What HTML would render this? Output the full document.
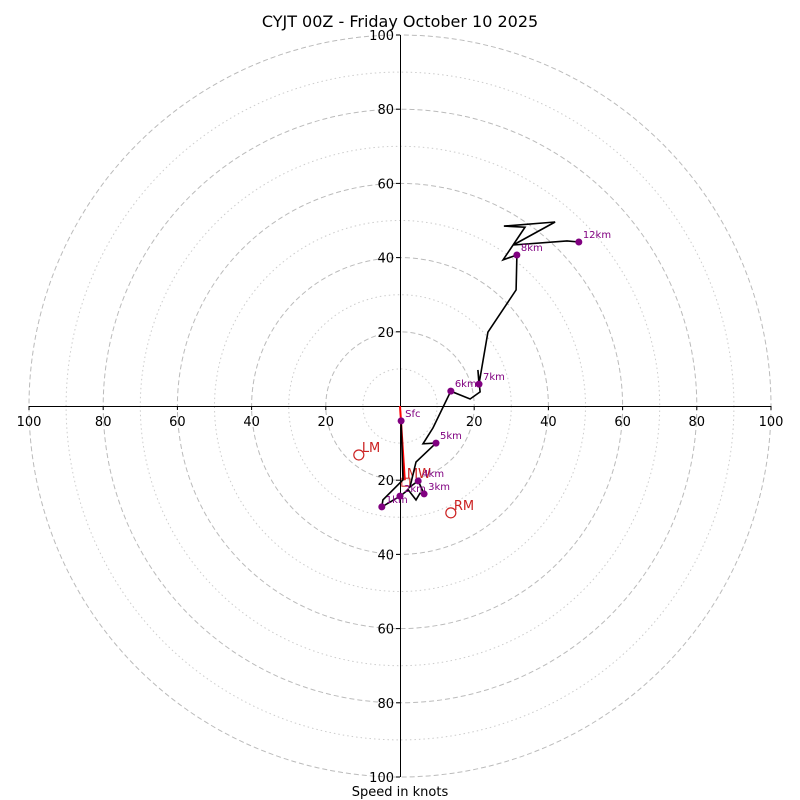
<!DOCTYPE html>
<html><head><meta charset="utf-8"><style>
html,body{margin:0;padding:0;background:#fff}
svg{display:block;font-family:"DejaVu Sans","Liberation Sans",sans-serif}
</style></head><body>
<svg id="chart" width="800" height="800" viewBox="0 0 800 800">
<text x="400" y="27" text-anchor="middle" font-size="16">CYJT 00Z - Friday October 10 2025</text>
<g id="grid"></g>
<g id="axes"></g>
<g id="series"></g>
<text x="400" y="796" text-anchor="middle" font-size="13">Speed in knots</text>
</svg>
<script>
const ringSpeeds=[10,20,30,40,50,60,70,80,90,100];
const tickValues=[20,40,60,80,100];
const traceU=[0.3,0.8,-4.6,-4.9,0,2.2,4.3,5.4,6.5,4.9,2.7,4.3,9.7,6.2,8.9,13.7,18.9,21.6,21.0,21.3,23.7,31.3,31.5,27.8,32.3,33.7,28.0,41.8,30.5,45.0,48.2];
const traceV=[-4.0,-19.9,-25.3,-27.2,-24.3,-22.6,-25.3,-23.5,-23.7,-20.2,-21.8,-15.1,-10.0,-10.2,-5.9,4.0,1.9,3.8,9.7,5.9,19.9,31.3,40.7,39.4,46.1,48.2,48.5,49.6,43.4,44.5,44.2];
const markerLabels=["Sfc","1km","2km","3km","4km","5km","6km","7km","8km","12km"];
const markerU=[0.3,-4.9,0,6.5,4.9,9.7,13.7,21.3,31.5,48.2];
const markerV=[-4.0,-27.2,-24.3,-23.7,-20.2,-10.0,4.0,5.9,40.7,44.2];
const stormLabels=["LM","RM"];
const stormU=[-11.1,13.7];
const stormV=[-13.2,-28.8];
const meanWindU=[1.3];
const meanWindV=[-20.0];

const cx=400,cy=406,k=3.71;
const X=u=>cx+u*k, Y=v=>cy-v*k;
const NS='http://www.w3.org/2000/svg';
function mk(tag,parent,attrs){const e=document.createElementNS(NS,tag);for(const a in attrs)e.setAttribute(a,attrs[a]);parent.appendChild(e);return e;}
const grid=document.getElementById('grid'),axes=document.getElementById('axes'),series=document.getElementById('series');

ringSpeeds.forEach(s=>{
  const even=s%20===0;
  const c=mk('circle',grid,{cx:cx,cy:cy,r:s*k,fill:'none',stroke:even?'#bbbbbb':'#cccccc','stroke-width':1,'stroke-dasharray':even?'5,3':'1.5,3'});
  
  
});
mk('line',axes,{x1:X(-100),y1:cy+0.5,x2:X(100),y2:cy+0.5,stroke:'#000','stroke-width':1,'shape-rendering':'crispEdges'});
mk('line',axes,{x1:cx+0.5,y1:Y(100),x2:cx+0.5,y2:Y(-100),stroke:'#000','stroke-width':1,'shape-rendering':'crispEdges'});
tickValues.forEach(t=>{
  [-1,1].forEach(sg=>{
    mk('line',axes,{x1:X(sg*t),y1:cy,x2:X(sg*t),y2:cy+4,stroke:'#000'});
    const tx=mk('text',axes,{x:X(sg*t),y:cy+20,'text-anchor':'middle','font-size':13});
    tx.textContent=t;
    
    
    mk('line',axes,{x1:cx-4,y1:Y(sg*t),x2:cx,y2:Y(sg*t),stroke:'#000'});
    const ty=mk('text',axes,{x:cx-6,y:Y(sg*t)+5,'text-anchor':'end','font-size':13});
    ty.textContent=t;
    
    
  });
});

const mw=mk('line',series,{x1:X(0),y1:Y(0),x2:X(meanWindU[0]),y2:Y(meanWindV[0]),stroke:'#ff0000','stroke-width':2});


const mws=mk('rect',series,{x:X(meanWindU[0])-3,y:Y(meanWindV[0])-2,width:8,height:8,fill:'none',stroke:'#cc2222'});


const mwt=mk('text',series,{x:X(meanWindU[0])+2,y:Y(meanWindV[0])-2,'font-size':13,fill:'#cc2222'});
mwt.textContent='MW';



let d='';
traceU.forEach((u,i)=>{d+=(i?'L':'M')+X(u).toFixed(1)+','+Y(traceV[i]).toFixed(1);});
const p=mk('path',series,{d:d,fill:'none',stroke:'#000','stroke-width':1.6,'stroke-linejoin':'miter'});



markerLabels.forEach((l,i)=>{
  const c=mk('circle',series,{cx:X(markerU[i]),cy:Y(markerV[i]),r:3.5,fill:'#800080'});
  
  
  const t=mk('text',series,{x:X(markerU[i])+4,y:Y(markerV[i])-4,'font-size':10,fill:'#800080'});
  t.textContent=l;
  
  
});
stormLabels.forEach((l,i)=>{
  const c=mk('circle',series,{cx:X(stormU[i]),cy:Y(stormV[i]),r:5,fill:'none',stroke:'#cc2222','stroke-width':1.2});
  
  
  const t=mk('text',series,{x:X(stormU[i])+3,y:Y(stormV[i])-3,'font-size':13,fill:'#cc2222'});
  t.textContent=l;
  
  
});
</script>
</body></html>
